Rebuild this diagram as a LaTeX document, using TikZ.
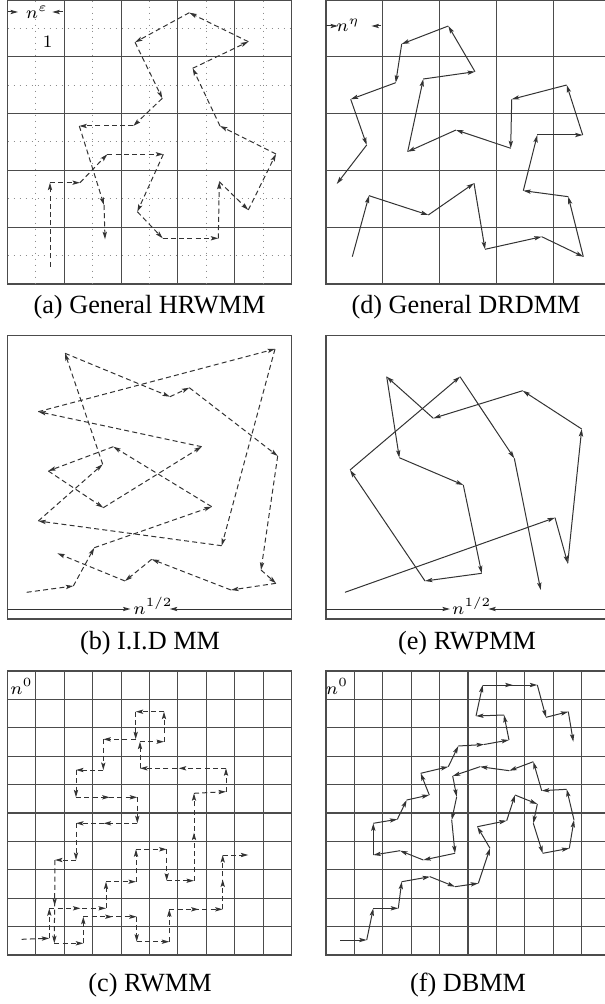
\documentclass[tikz,border=0pt]{standalone}
\usepackage{fontspec}
\setmainfont{Liberation Serif}
\usetikzlibrary{arrows.meta,decorations.markings}

\begin{document}
\begin{tikzpicture}[x=0.4pt,y=-0.4pt,
  cell/.style={draw=black!70, line width=0.45pt},
  half/.style={draw=black!45, line width=0.4pt, dotted},
  tip/.style={-{Stealth[length=3pt,width=1.7pt,inset=0.6pt]}, draw=black!80, line width=0.4pt},
  walk/.style={tip},
  dwalk/.style={tip, dash pattern=on 2pt off 1.3pt},
  midtip/.style={postaction={decorate}, decoration={markings,
    mark=at position 0.55 with {\arrow{Stealth[length=3pt,width=1.7pt,inset=0.6pt]}}}},
  lbl/.style={font=\fontsize{7}{8}\selectfont, inner sep=0pt},
  captext/.style={font=\fontsize{10.5}{12}\selectfont}]
\useasboundingbox (0,0) rectangle (605,1004);

% (a) General HRWMM
\draw[cell] (7.5,0.6) rectangle (291.5,284);
\foreach \i in {0,...,4} {
  \draw[half] (35.9+56.8*\i,0.6) -- (35.9+56.8*\i,284);
  \draw[half] (7.5,28.4+56.8*\i) -- (291.5,28.4+56.8*\i);
}
\foreach \i in {1,...,4} {
  \draw[cell] (7.5+56.8*\i,0.6) -- (7.5+56.8*\i,284);
  \draw[cell] (7.5,56.8*\i) -- (291.5,56.8*\i);
}
\node[lbl, fill=white] (neps) at (37,12.2) {$n^{\varepsilon}$};
\node[lbl] (one) at (47.7,41.7) {$1$};
\coordinate (al) at (7.5,12);
\coordinate (alt) at (18,12);
\coordinate (ar) at (63,12);
\draw[tip] (al) -- (alt);
\draw[tip, shorten >=1.5pt] (ar) -- (ar -| neps.east);
\foreach \x/\y [remember=\x as \lx (initially 50), remember=\y as \ly (initially 266.7)] in
  {50/182.7, 80/182.7, 107.3/154.3, 163.3/154.3, 137.3/211.7, 162.7/238.3, 218.3/238.3,
   219.3/181.7, 248.3/210, 276/154, 220/126, 192.7/68.3, 248.3/41.7, 189.3/12.7,
   135/42.3, 162.3/98.3, 133.3/126, 79.3/126, 104/205, 105/239.3}
  \draw[dwalk] (\lx,\ly) -- (\x,\y);
\node[captext] (capa) at (149.5,307) {(a) General HRWMM};

% (d) General DRDMM
\draw[cell] (326,0.6) rectangle (610,284);
\foreach \i in {1,...,4} {
  \draw[cell] (326+56.8*\i,0.6) -- (326+56.8*\i,284);
  \draw[cell] (326,56.8*\i) -- (610,56.8*\i);
}
\node[lbl] (neta) at (348,25.5) {$n^{\eta}$};
\coordinate (dl) at (326,26);
\coordinate (dlt) at (338,26);
\coordinate (dr) at (381,26);
\draw[tip] (dl) -- (dlt);
\draw[tip, shorten >=4.5pt] (dr) -- (dr -| neta.east);
\foreach \x/\y [remember=\x as \lx (initially 352.3), remember=\y as \ly (initially 256.7)] in
  {369/195.7, 428.3/215, 474/183.3, 485/249.3, 541.7/236.7, 583.3/256.7, 568.3/196.7,
   523.3/190.7, 537.3/135, 582.7/135, 566.7/85, 511.7/99.3, 510.7/148.3, 456/130,
   407.7/151.7, 423.3/79, 475/71.7, 448.3/26, 401.7/44, 395.7/82.7, 350.7/99.3,
   366.7/145, 336.7/184}
  \draw[walk] (\lx,\ly) -- (\x,\y);
\node[captext] (capd) at (466,307) {(d) General DRDMM};

% (b) I.I.D MM
\draw[cell] (7.5,335.5) rectangle (291.5,619);
\node[lbl] (nb) at (153,606) {$n^{1/2}$};
\coordinate (bl) at (7.5,609);
\coordinate (br) at (291.5,609);
\draw[tip, shorten >=1pt] (bl) -- (bl -| nb.west);
\draw[tip, shorten >=-1.3pt] (br) -- (br -| nb.east);
\foreach \x/\y [remember=\x as \lx (initially 26.7), remember=\y as \ly (initially 592.3)] in
  {73.3/586, 94.3/547.7, 211.7/506.7, 113.3/446.7, 48.3/471, 103.3/507.7, 201.7/446.7,
   38.3/411.7, 275/349, 221.7/545.7, 38.3/521, 102.7/464.3, 65/353.3, 170/396.7,
   189.3/387.7, 277.7/456, 261/570, 276/583.3, 231/590, 151.7/559.3, 125/581, 57.3/553.3}
  \draw[dwalk] (\lx,\ly) -- (\x,\y);
\node[captext] (capb) at (150,643) {(b) I.I.D MM};

% (e) RWPMM
\draw[cell] (326,335.5) rectangle (610,619);
\node[lbl] (ne) at (471.7,606) {$n^{1/2}$};
\coordinate (el) at (326,609);
\coordinate (er) at (610,609);
\draw[tip, shorten >=0.7pt] (el) -- (el -| ne.west);
\draw[tip, shorten >=-1.4pt] (er) -- (er -| ne.east);
\foreach \x/\y [remember=\x as \lx (initially 345), remember=\y as \ly (initially 592.3)] in
  {555/517.7, 567.7/563.3, 581.7/429, 522.7/390.7, 433.3/418.3, 386.7/376.7, 399.3/457.7,
   463.3/485, 481.7/573.3, 425/581, 350/470, 460/376.7, 514.3/458.3, 540.7/590}
  \draw[walk] (\lx,\ly) -- (\x,\y);
\node[captext] (cape) at (467,643) {(e) RWPMM};

% (c) RWMM
\draw[cell] (7.5,671) rectangle (291.5,955);
\foreach \i in {1,...,9} {
  \draw[cell] (7.5+28.4*\i,671) -- (7.5+28.4*\i,955);
  \draw[cell] (7.5,671+28.4*\i) -- (291.5,671+28.4*\i);
}
\node[lbl] (nc) at (21.5,686.5) {$n^{0}$};
\foreach \x/\y [remember=\x as \lx (initially 21.7), remember=\y as \ly (initially 939.3)] in
  {49.3/938.3, 49.3/908.3, 106/908.3, 106/881.7, 136/881.7, 136/849.3, 166.7/849.3,
   166.7/880.7, 194/880.7, 194/793.3, 226/791.7, 226/768.3, 140/768.3, 140/741.7,
   164/741.7, 164/711.7, 135.7/711.7, 135.7/739.3, 103.3/739.3, 103.3/770, 76/770,
   76/797.3, 137.3/797.3, 137.3/823.3, 76/823.3, 76/860, 55/860, 54.3/943.3, 83.3/943.3,
   83.3/916.7, 136.7/916.7, 136.7/941.7, 169.3/941.7, 169.3/909.3, 222.7/909.3,
   222.7/855, 248.3/855} {
  \pgfmathtruncatemacro\seglong{veclen(\x-\lx,\y-\ly)>45}
  \ifnum\seglong=1
    \draw[dwalk, midtip] (\lx,\ly) -- (\x,\y);
  \else
    \draw[dwalk] (\lx,\ly) -- (\x,\y);
  \fi
}
\node[captext] (capc) at (150,985) {(c) RWMM};

% (f) DBMM
\draw[cell] (326,671) rectangle (610,955);
\foreach \i in {1,...,9} {
  \draw[cell] (326+28.4*\i,671) -- (326+28.4*\i,955);
  \draw[cell] (326,671+28.4*\i) -- (610,671+28.4*\i);
}
\node[lbl] (nf) at (337,686.5) {$n^{0}$};
\foreach \x/\y [remember=\x as \lx (initially 340), remember=\y as \ly (initially 940)] in
  {366.7/940, 373.3/908.3, 398.3/908.3, 401.7/881.7, 430/876.7, 455/886.7, 478.3/883.3,
   490/848.3, 477.3/826.7, 506.7/820.7, 515/795, 537.3/804, 533.3/823.3, 542.7/853.3,
   569.3/848.3, 574/820, 566.7/789.3, 541.7/790.7, 533.3/761.7, 509.3/770.7, 480/766.7,
   452.7/776, 456.7/796.7, 451.7/820, 455/853.3, 423.3/860, 400/850.7, 373.3/855,
   373.3/823.3, 397.3/819.3, 406.7/800, 429.3/795, 420.7/773.3, 448.3/766.7, 458.3/746,
   484/744.5, 509/740, 504/715, 476/716, 482.7/685, 537.3/685, 546/717.3, 568.3/711.7,
   573.3/741.7} {
  \pgfmathtruncatemacro\seglong{veclen(\x-\lx,\y-\ly)>45}
  \ifnum\seglong=1
    \draw[walk, midtip] (\lx,\ly) -- (\x,\y);
  \else
    \draw[walk] (\lx,\ly) -- (\x,\y);
  \fi
}
\node[captext] (capf) at (468,985) {(f) DBMM};
\end{tikzpicture}
\end{document}
